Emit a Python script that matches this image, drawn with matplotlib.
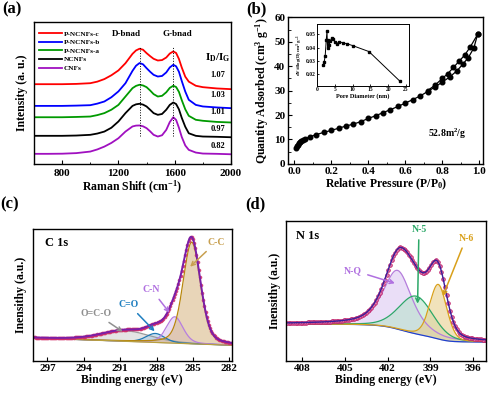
import matplotlib.pyplot as plt
import numpy as np
from matplotlib.ticker import MultipleLocator

plt.rcParams['font.family'] = ['Liberation Serif', 'DejaVu Serif']
plt.rcParams['font.weight'] = 'bold'
plt.rcParams['axes.labelweight'] = 'bold'
plt.rcParams['mathtext.fontset'] = 'custom'
plt.rcParams['mathtext.rm'] = 'Liberation Serif:bold'
plt.rcParams['mathtext.bf'] = 'Liberation Serif:bold'
plt.rcParams['mathtext.it'] = 'Liberation Serif:bold'
plt.rcParams['mathtext.default'] = 'bf'
plt.rcParams['xtick.direction'] = 'in'
plt.rcParams['ytick.direction'] = 'in'
plt.rcParams['axes.linewidth'] = 1.0

# ---- (a) Raman spectra ----
raman_x = [600, 700, 800, 900, 1000, 1050, 1100, 1150, 1200, 1250, 1300, 1325, 1350,
           1375, 1400, 1425, 1450, 1480, 1510, 1540, 1565, 1590, 1610, 1630, 1650,
           1675, 1700, 1750, 1800, 1900, 2000]
raman = {
    'P-NCNFs-c': [5.62, 5.62, 5.62, 5.64, 5.69, 5.80, 5.98, 6.25, 6.59, 7.10, 7.76, 8.00,
                  8.12, 8.05, 7.81, 7.60, 7.41, 7.29, 7.32, 7.50, 7.78, 7.93, 7.82, 7.40,
                  6.80, 6.15, 5.80, 5.51, 5.41, 5.32, 5.27],
    'P-NCNFs-b': [4.09, 4.09, 4.09, 4.11, 4.14, 4.25, 4.40, 4.70, 5.11, 5.69, 6.56, 6.92,
                  7.11, 7.02, 6.75, 6.50, 6.28, 6.16, 6.20, 6.45, 6.80, 6.99, 6.88, 6.50,
                  5.85, 5.10, 4.52, 4.16, 4.05, 3.98, 3.93],
    'P-NCNFs-a': [3.29, 3.29, 3.29, 3.31, 3.34, 3.44, 3.58, 3.82, 4.16, 4.75, 5.34, 5.50,
                  5.58, 5.53, 5.41, 5.18, 4.92, 4.75, 4.80, 5.05, 5.36, 5.51, 5.42, 5.08,
                  4.50, 3.85, 3.39, 3.11, 3.04, 2.96, 2.92],
    'NCNFs': [1.98, 1.98, 1.98, 2.00, 2.05, 2.14, 2.28, 2.55, 2.99, 3.58, 4.09, 4.20,
              4.24, 4.18, 4.05, 3.82, 3.58, 3.46, 3.52, 3.82, 4.16, 4.33, 4.22, 3.85,
              3.25, 2.62, 2.16, 1.98, 1.93, 1.91, 1.88],
    'CNFs': [0.71, 0.71, 0.72, 0.76, 0.87, 1.02, 1.22, 1.48, 1.81, 2.28, 2.64, 2.70,
             2.71, 2.65, 2.52, 2.30, 2.05, 1.93, 2.02, 2.40, 2.95, 3.29, 3.10, 2.55,
             1.90, 1.30, 0.99, 0.80, 0.73, 0.71, 0.68],
}
raman_colors = ['#ff0000', '#0000ff', '#009a00', '#000000', '#a010c0']
ratio_labels = ['1.07', '1.03', '1.01', '0.97', '0.82']
ratio_y = [6.1, 4.7, 3.5, 2.3, 1.1]

# ---- (b) N2 isotherm ----
ads_p = [0.010, 0.015, 0.020, 0.026, 0.032, 0.040, 0.050, 0.060, 0.085, 0.12, 0.16,
         0.20, 0.24, 0.28, 0.32, 0.36, 0.40, 0.44, 0.48, 0.52, 0.56, 0.60, 0.64, 0.68,
         0.72, 0.76, 0.80, 0.84, 0.88, 0.91, 0.94, 0.97, 0.99]
ads_q = [6.6, 7.3, 7.9, 8.4, 8.9, 9.4, 9.9, 10.3, 11.1, 12.0, 12.9, 13.7, 14.6, 15.5,
         16.3, 17.3, 18.6, 19.7, 21.0, 22.2, 23.5, 24.9, 26.3, 27.8, 29.6, 31.5, 33.5,
         35.6, 38.2, 40.8, 43.5, 47.5, 53.0]
des_p = [0.99, 0.95, 0.92, 0.89, 0.86, 0.83, 0.80, 0.76, 0.72]
des_q = [53.0, 47.8, 44.5, 42.0, 39.5, 37.0, 35.0, 32.2, 30.0]
pore_d = [1.7, 2.0, 2.3, 2.6, 2.8, 2.95, 3.1, 3.4, 3.7, 4.1, 4.6, 5.0, 5.6, 6.3,
          7.2, 8.3, 10.0, 14.6, 23.2]
pore_dv = [0.027, 0.029, 0.034, 0.046, 0.0525, 0.040, 0.046, 0.042, 0.045, 0.047,
           0.0468, 0.044, 0.043, 0.0445, 0.0435, 0.043, 0.0415, 0.037, 0.015]

# ---- (c) C 1s peaks ----
c_names = ['C-C', 'C-N', 'C=O', 'O=C-O']
c_center = [285.1, 286.5, 288.1, 290.5]
c_height = [0.77, 0.20, 0.068, 0.079]
c_fwhm = [1.7, 1.6, 1.8, 4.8]
c_base = [0.119, 0.175]  # low-BE end, high-BE end
c_line = ['#b8860b', '#b77ee0', '#1f78b4', '#9a9a9a']
c_fill = ['#d9b98a', '#dcc6f2', '#a9cde8', '#d3d3d3']

# ---- (d) N 1s peaks ----
n_names = ['N-Q', 'N-5', 'N-6']
n_center = [401.3, 400.0, 398.45]
n_height = [0.42, 0.27, 0.39]
n_fwhm = [2.4, 2.8, 1.4]
n_eta = [0.6, 0.2, 0.2]
n_base = [0.135, 0.265]
n_line = ['#b57edc', '#2ca868', '#d9a01a']
n_fill = ['#dcc8f2', '#b8e3cc', '#e9cf8e']


def pv(x, c, h, w, eta):
    g = np.exp(-4 * np.log(2) * ((x - c) / w) ** 2)
    lo = 1 / (1 + 4 * ((x - c) / w) ** 2)
    return h * (eta * lo + (1 - eta) * g)


fig = plt.figure(figsize=(4.9, 3.94), dpi=100)

# (a)
ax = fig.add_axes([0.0694, 0.584, 0.402, 0.360])
for (name, ys), col in zip(raman.items(), raman_colors):
    ax.plot(raman_x, ys, color=col, lw=1.3, label=name)
ax.vlines([1350, 1590], 1.95, 8.3, colors='k', linestyles=':', lw=0.7)
ax.text(1255, 9.0, 'D-bnad', ha='center', fontsize=6.5)
ax.text(1615, 9.0, 'G-bnad', ha='center', fontsize=6.5)
ax.text(1905, 7.3, 'I$_D$/I$_G$', ha='center', fontsize=8)
for lab, yy in zip(ratio_labels, ratio_y):
    ax.text(1905, yy, lab, ha='center', fontsize=6)
ax.set_xlim(600, 2000)
ax.set_ylim(0, 10)
ax.set_xticks([800, 1200, 1600, 2000])
ax.xaxis.set_minor_locator(MultipleLocator(200))
ax.set_yticks([])
ax.tick_params(labelsize=8, length=3)
ax.tick_params(which='minor', length=1.8)
ax.set_xlabel('Raman Shift (cm$^{-1}$)', fontsize=8.5, labelpad=1)
ax.set_ylabel('Intensity (a. u.)', fontsize=8.5, labelpad=4)
ax.legend(loc='upper left', bbox_to_anchor=(-0.01, 0.985), frameon=False, fontsize=5.2,
          handlelength=3.2, labelspacing=0.35, handletextpad=0.3)
fig.text(0.005, 0.965, '(a)', fontsize=12, fontweight='bold')

# (b)
ax = fig.add_axes([0.588, 0.584, 0.398, 0.372])
ax.plot(ads_p, ads_q, 'o-', color='k', ms=3.3, lw=0.9)
ax.plot(des_p, des_q, 'o-', color='k', ms=3.3, lw=0.9)
ax.text(0.72, 11, '52.8m$^2$/g', fontsize=7)
ax.set_xlim(-0.032, 1.02)
ax.set_ylim(0, 60)
ax.set_xticks(np.arange(0, 1.01, 0.2))
ax.set_yticks(np.arange(0, 61, 10))
ax.xaxis.set_minor_locator(MultipleLocator(0.1))
ax.yaxis.set_minor_locator(MultipleLocator(5))
ax.tick_params(labelsize=8, length=3, pad=2)
ax.tick_params(which='minor', length=1.8)
ax.set_xlabel('Relative Pressure (P/P$_0$)', fontsize=8.5, labelpad=1)
ax.set_ylabel('Quantity Adsorbed (cm$^3$ g$^{-1}$)', fontsize=8.5, labelpad=2)
fig.text(0.503, 0.965, '(b)', fontsize=12, fontweight='bold')

ins = fig.add_axes([0.647, 0.782, 0.188, 0.157])
ins.plot(pore_d, pore_dv, 's-', color='k', ms=1.5, lw=0.7)
ins.set_xlim(0, 25.9)
ins.set_ylim(0.0112, 0.0577)
ins.set_xticks([0, 5, 10, 15, 20, 25])
ins.set_yticks([0.02, 0.03, 0.04, 0.05])
ins.tick_params(labelsize=4, length=1.5, pad=1, width=0.6)
for s in ins.spines.values():
    s.set_linewidth(0.7)
ins.set_xlabel('Pore Diameter (nm)', fontsize=4.5, labelpad=0.5)
ins.set_ylabel('dV/dlog(D) cm$^3$ g$^{-1}$', fontsize=3.5, labelpad=0.5)

# (c)
ax = fig.add_axes([0.067, 0.0838, 0.406, 0.335])
xc = np.linspace(281.8, 298.2, 700)
base_c = c_base[0] + (xc - 281.8) / (298.2 - 281.8) * (c_base[1] - c_base[0])
env_c = base_c.copy()
for i in range(4):
    p = pv(xc, c_center[i], c_height[i], c_fwhm[i], 0.3)
    env_c += p
for i in [3, 2, 1, 0]:
    p = pv(xc, c_center[i], c_height[i], c_fwhm[i], 0.3)
    ax.fill_between(xc, base_c, base_c + p, color=c_fill[i], alpha=0.6, lw=0)
    ax.plot(xc, base_c + p, color=c_line[i], lw=0.9)
ax.plot(xc, base_c, color='#b8a040', lw=0.9)
ax.plot(xc[::4], env_c[::4], 'o', color='#d0306a', ms=1.6, alpha=0.8)
ax.plot(xc, env_c, color='#7a1fa8', lw=1.4)
ax.annotate('C-C', xy=(285.4, 0.70), xytext=(283.1, 0.88), color='#c8a050',
            fontsize=7, ha='center', arrowprops=dict(arrowstyle='->', color='#c8a050', lw=1.1))
ax.annotate('C-N', xy=(286.8, 0.35), xytext=(288.4, 0.52), color='#b070e0',
            fontsize=7, ha='center', arrowprops=dict(arrowstyle='->', color='#b070e0', lw=1.1))
ax.annotate('C=O', xy=(288.0, 0.21), xytext=(290.3, 0.41), color='#1f7fc0',
            fontsize=7, ha='center', arrowprops=dict(arrowstyle='->', color='#1f7fc0', lw=1.1))
ax.annotate('O=C-O', xy=(290.6, 0.21), xytext=(293.0, 0.34), color='#909090',
            fontsize=7, ha='center', arrowprops=dict(arrowstyle='->', color='#909090', lw=1.1))
ax.text(0.06, 0.87, 'C 1s', transform=ax.transAxes, fontsize=9)
ax.set_xlim(298.2, 281.8)
ax.set_ylim(0, 1)
ax.set_xticks([297, 294, 291, 288, 285, 282])
ax.set_yticks([])
ax.tick_params(labelsize=8, length=3, pad=2)
ax.set_xlabel('Binding energy (eV)', fontsize=8.5, labelpad=1)
ax.set_ylabel('Inensithy (a.u.)', fontsize=8.5, labelpad=4)
fig.text(0.0, 0.47, '(c)', fontsize=12, fontweight='bold')

# (d)
ax = fig.add_axes([0.584, 0.0838, 0.408, 0.355])
xn = np.linspace(395.1, 409.1, 700)
peaks_n = [pv(xn, n_center[i], n_height[i], n_fwhm[i], n_eta[i]) for i in range(3)]
tot = sum(peaks_n)
frac = np.cumsum(tot) / np.sum(tot)
base_n = n_base[0] + (n_base[1] - n_base[0]) * frac
env_n = base_n + tot
ax.plot(xn, base_n, color='#1f3fd0', lw=0.9)
for i in range(3):
    ax.fill_between(xn, base_n, base_n + peaks_n[i], color=n_fill[i], alpha=0.6, lw=0)
    ax.plot(xn, base_n + peaks_n[i], color=n_line[i], lw=0.9)
ax.plot(xn[::6], env_n[::6], 'o', mfc='#e080b0', mec='#c0206a', ms=2.6, mew=0.6)
ax.plot(xn, env_n, color='#3a1f9a', lw=1.0)
ax.annotate('N-Q', xy=(401.3, 0.55), xytext=(404.4, 0.63), color='#b070e0',
            fontsize=7, ha='center', arrowprops=dict(arrowstyle='->', color='#b070e0', lw=1.1))
ax.annotate('N-5', xy=(399.9, 0.39), xytext=(399.8, 0.92), color='#2ca868',
            fontsize=7, ha='center', arrowprops=dict(arrowstyle='->', color='#2ca868', lw=1.1))
ax.annotate('N-6', xy=(398.2, 0.445), xytext=(396.5, 0.86), color='#d9a01a',
            fontsize=7, ha='center', arrowprops=dict(arrowstyle='->', color='#d9a01a', lw=1.1))
ax.text(0.05, 0.87, 'N 1s', transform=ax.transAxes, fontsize=9)
ax.set_xlim(409.1, 395.1)
ax.set_ylim(0, 1)
ax.set_xticks([408, 405, 402, 399, 396])
ax.set_yticks([])
ax.tick_params(labelsize=8, length=3, pad=2)
ax.set_xlabel('Binding energy (eV)', fontsize=8.5, labelpad=1)
ax.set_ylabel('Inensithy (a.u.)', fontsize=8.5, labelpad=4)
fig.text(0.5, 0.47, '(d)', fontsize=12, fontweight='bold')

fig.savefig('out.png', dpi=100)
